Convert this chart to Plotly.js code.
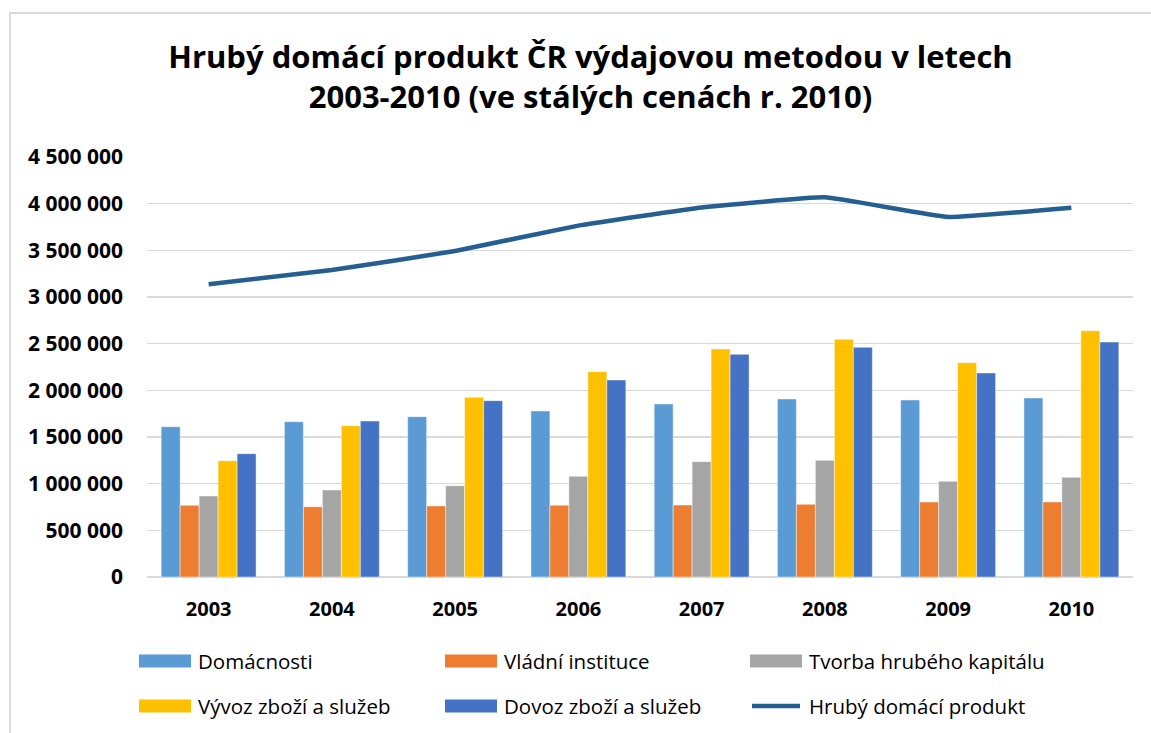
<!DOCTYPE html>
<html>
<head>
<meta charset="utf-8">
<script src="https://cdn.plot.ly/plotly-3.0.1.min.js"></script>
<style>
html,body{margin:0;padding:0;background:#fff;overflow:hidden;}
#frame{position:absolute;left:9px;top:12px;width:1200px;height:800px;border:2px solid #d9d9d9;box-sizing:border-box;}
#chart{position:absolute;left:0;top:0;width:1151px;height:733px;}
</style>
</head>
<body>
<div id="frame"></div>
<div id="chart"></div>
<script>
const years = ["2003","2004","2005","2006","2007","2008","2009","2010"];
const domacnosti = [1610000,1664000,1718000,1779000,1854000,1907000,1896000,1918000];
const vladni = [768000,753000,761000,768000,771000,779000,804000,804000];
const tvorba = [868000,932000,978000,1079000,1236000,1250000,1025000,1068000];
const vyvoz = [1246000,1621000,1925000,2200000,2443000,2547000,2296000,2639000];
const dovoz = [1321000,1671000,1889000,2111000,2386000,2461000,2186000,2518000];
const hdp = [3136000,3289000,3493000,3765000,3960000,4068000,3858000,3957000];

const seriesNames = ["Domácnosti","Vládní instituce","Tvorba hrubého kapitálu","Vývoz zboží a služeb","Dovoz zboží a služeb","Hrubý domácí produkt"];
const colors = ["#5b9bd5","#ed7d31","#a5a5a5","#ffc000","#4472c4","#255e91"];

const FONT = "'Open Sans', sans-serif";
const W = 1151, H = 733;
const M = {l:147, r:18, t:157, b:156};
const PW = W - M.l - M.r, PH = H - M.t - M.b;
const px2x = px => (px - M.l) / PW;
const px2y = py => (H - M.b - py) / PH;

const barData = [domacnosti, vladni, tvorba, vyvoz, dovoz];
const traces = barData.map((vals,i)=>({
  type:"bar", x:years, y:vals, name:seriesNames[i],
  marker:{color:colors[i], line:{color:"rgba(255,255,255,0.6)", width:0.75}},
  showlegend:false
}));
traces.push({
  type:"scatter", mode:"lines", x:years, y:hdp, name:seriesNames[5],
  line:{color:colors[5], width:4.5, shape:"spline", smoothing:0.3},
  showlegend:false
});

// custom legend (Excel-style wide swatches)
const legCols = [139, 445, 750];
const legRows = [661, 706];
const swW = 52, swH = 13;
const shapes = [], annotations = [];
seriesNames.forEach((name, i) => {
  const cx = legCols[i % 3], cy = legRows[Math.floor(i / 3)];
  if (i < 5) {
    shapes.push({type:"rect", xref:"paper", yref:"paper",
      x0:px2x(cx), x1:px2x(cx+swW), y0:px2y(cy+swH/2), y1:px2y(cy-swH/2),
      fillcolor:colors[i], line:{width:0}});
  } else {
    shapes.push({type:"line", xref:"paper", yref:"paper",
      x0:px2x(cx+2), x1:px2x(cx+swW-2), y0:px2y(cy), y1:px2y(cy),
      line:{color:colors[i], width:4.5}});
  }
  annotations.push({xref:"paper", yref:"paper", x:px2x(cx+swW+5), y:px2y(cy),
    xanchor:"left", yanchor:"middle", showarrow:false, text:name,
    font:{family:FONT, size:20.5, color:"#000"}});
});

const layout = {
  width:W, height:H,
  paper_bgcolor:"rgba(0,0,0,0)", plot_bgcolor:"rgba(0,0,0,0)",
  separators:", ",
  margin:M,
  barmode:"group", bargap:0.23, bargroupgap:0,
  font:{family:FONT, color:"#000"},
  title:{
    text:"<b>Hrubý domácí produkt ČR výdajovou metodou v letech<br>2003-2010 (ve stálých cenách r. 2010)</b>",
    font:{family:FONT, size:31, color:"#000"},
    xref:"container", x:0.513, xanchor:"center",
    yref:"container", y:1-68/H, yanchor:"top"
  },
  xaxis:{
    type:"category", showgrid:false, zeroline:false, showline:false,
    tickfont:{family:FONT, size:20, color:"#000", weight:"bold"},
    ticks:"", ticklabelstandoff:18, fixedrange:true
  },
  yaxis:{
    range:[0,4500000], dtick:500000, tickformat:",d",
    showgrid:true, gridcolor:"#d9d9d9", gridwidth:1.5,
    zeroline:true, zerolinecolor:"#d9d9d9", zerolinewidth:1.5, showline:false,
    tickfont:{family:FONT, size:21, color:"#000", weight:"bold"},
    ticks:"", ticklabelstandoff:23, fixedrange:true
  },
  shapes:shapes,
  annotations:annotations,
  showlegend:false
};

Plotly.newPlot("chart", traces, layout, {displayModeBar:false, staticPlot:true});
</script>
</body>
</html>
